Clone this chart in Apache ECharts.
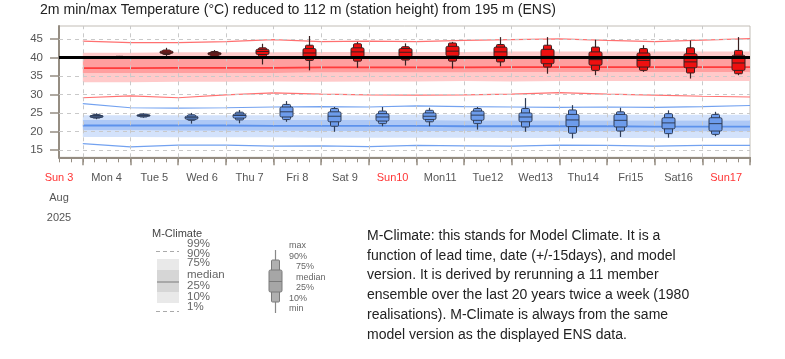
<!DOCTYPE html>
<html><head><meta charset="utf-8">
<script src="https://cdn.jsdelivr.net/npm/echarts@6/dist/echarts.min.js"></script>
<style>html,body{margin:0;padding:0;background:#fff}#c{width:785px;height:359px}</style>
</head><body><div id="c"></div>
<script>
// ---- data ----
const dayLabels = ['Sun 3','Mon 4','Tue 5','Wed 6','Thu 7','Fri 8','Sat 9','Sun10','Mon11','Tue12','Wed13','Thu14','Fri15','Sat16','Sun17'];
const monthLabel = 'Aug';
const yearLabel = '2025';
const yTicks = [15, 20, 25, 30, 35, 40, 45];
const dayBounds = [1,2,3,4,5,6,7,8,9,10,11,12,13,14,15];
const threshold = 40;

// M-Climate, at day boundaries (dayBounds)
const red99 = [44.4,44.0,44.0,44.3,44.8,44.3,44.4,44.3,44.6,44.8,45.0,44.6,44.3,44.7,45.1];
const red90 = [41.3,41.3,41.4,41.4,41.4,41.5,41.5,41.5,41.5,41.6,41.6,41.6,41.6,41.6,41.6];
const red75 = [39.8,39.8,39.9,39.9,39.9,40.0,40.0,40.0,40.0,40.1,40.1,40.1,40.1,40.1,40.1];
const red50 = [37.1,37.1,37.2,37.2,37.2,37.3,37.3,37.3,37.3,37.4,37.4,37.4,37.4,37.4,37.4];
const red25 = [35.7,35.7,35.8,35.8,35.8,35.9,35.9,35.9,35.9,36.0,36.0,36.0,36.0,36.0,36.0];
const red10 = [33.3,33.3,33.4,33.4,33.5,33.4,33.5,33.5,33.6,33.5,33.6,33.6,33.6,33.6,33.6];
const red1  = [29.1,29.6,29.1,29.9,30.4,30.1,29.9,29.8,29.9,30.1,30.5,30.1,29.8,29.5,29.3];

const blue99 = [27.5,26.4,26.3,26.4,26.6,26.7,26.6,26.9,26.7,26.6,26.5,26.6,26.5,26.7,27.0];
const blue90 = [24.4,24.4,24.4,24.4,24.4,24.4,24.4,24.5,24.5,24.5,24.5,24.5,24.5,24.5,24.5];
const blue75 = [23.2,23.2,23.2,23.2,23.1,23.1,23.1,23.1,23.0,23.0,23.0,23.0,23.0,23.0,23.0];
const blue50 = [21.6,21.6,21.6,21.6,21.5,21.5,21.5,21.5,21.4,21.4,21.4,21.4,21.3,21.3,21.3];
const blue25 = [20.3,20.3,20.2,20.2,20.2,20.1,20.1,20.1,20.1,20.1,20.0,20.0,20.0,20.0,20.0];
const blue10 = [18.5,18.5,18.4,18.4,18.4,18.3,18.3,18.3,18.3,18.2,18.2,18.2,18.2,18.2,18.2];
const blue1  = [16.7,15.8,16.3,16.3,16.0,16.1,15.9,16.2,16.1,16.0,16.3,16.2,16.0,16.2,16.2];

// ENS boxes per day (Mon 4 .. Sun17): [min, p10, p25, median, p75, p90, max]
const tmaxBoxes = [
  [39.8,39.9,40.0,40.1,40.2,40.3,40.4],
  [40.4,40.8,41.1,41.4,41.7,42.0,42.6],
  [40.0,40.4,40.7,41.0,41.3,41.6,42.0],
  [38.1,40.2,40.8,41.6,42.2,42.6,43.7],
  [36.5,39.2,40.1,41.2,42.4,43.3,45.8],
  [37.2,39.0,40.1,41.5,42.6,43.7,44.2],
  [37.8,39.3,40.2,41.4,42.4,42.9,43.8],
  [37.0,39.0,40.4,41.7,43.0,43.9,44.2],
  [37.6,38.8,40.1,41.5,42.8,43.5,45.5],
  [35.6,37.4,38.3,40.3,42.2,43.3,45.5],
  [35.2,36.5,37.9,39.4,41.5,42.8,44.8],
  [36.1,36.5,37.4,39.2,41.2,42.4,43.3],
  [34.3,35.8,37.2,38.8,41.0,42.6,44.6],
  [35.2,35.6,36.5,38.5,40.6,41.9,45.5]
];
const tminBoxes = [
  [23.3,23.6,23.8,24.1,24.3,24.6,24.9],
  [23.7,23.9,24.1,24.3,24.5,24.7,24.9],
  [22.1,23.0,23.3,23.7,24.1,24.5,25.0],
  [22.2,23.1,23.6,24.3,24.7,25.2,25.8],
  [22.6,23.2,23.9,25.3,26.6,27.3,28.2],
  [19.9,21.4,22.6,24.1,25.3,26.2,26.6],
  [21.4,22.1,22.8,23.9,24.8,25.5,26.6],
  [21.4,22.6,23.2,24.1,25.0,25.7,26.4],
  [20.5,22.1,23.0,24.4,25.5,26.2,26.6],
  [19.9,21.2,22.6,23.9,25.0,26.2,29.0],
  [18.1,19.5,21.3,23.1,24.6,25.8,27.1],
  [18.5,20.1,21.2,23.0,24.6,25.3,26.4],
  [18.3,19.4,20.7,22.3,23.7,24.8,25.7],
  [18.7,19.2,20.1,22.1,23.7,24.6,25.3]
];
const tminTime = 0.27; // fraction of day
const tmaxTime = 0.75;

// ---- build ----
const FONT = "'Liberation Sans', Arial, sans-serif";
const AX = '#958d82';

// band between two percentile arrays, drawn as one polygon through the axis scales
function bandSeries(lo, hi, color) {
  const rows = dayBounds.map((x, i) => [x, lo[i], hi[i]]);
  return {
    type:'custom', silent:true, animation:false, z:2,
    data: rows, encode:{x:0, y:[1,2]},
    renderItem: function (params, api) {
      if (params.dataIndex !== 0) return null;
      const top = rows.map(r => api.coord([r[0], r[2]]));
      const bot = rows.map(r => api.coord([r[0], r[1]])).reverse();
      return {type:'polygon', shape:{points: top.concat(bot)}, style:{fill:color}};
    }
  };
}
function lineSeries(arr, color, width) {
  return {type:'line', data: dayBounds.map((x, i) => [x, arr[i]]), symbol:'none', silent:true, animation:false, z:2,
    lineStyle:{color, width}};
}
function boxRender(fill, stroke) {
  return function (params, api) {
    const x = api.value(0);
    const p = [1,2,3,4,5,6,7].map(i => api.coord([x, api.value(i)]));
    const cx = Math.round(p[0][0]) + 0.5;
    const nw = 8, ww = 13;
    return {type:'group', children:[
      {type:'line', shape:{x1:cx, y1:p[0][1], x2:cx, y2:p[6][1]}, style:{stroke, lineWidth:1.2}},
      {type:'rect', shape:{x:cx-nw/2, y:p[5][1], width:nw, height:p[1][1]-p[5][1], r:1}, style:{fill, stroke, lineWidth:1}},
      {type:'rect', shape:{x:cx-ww/2, y:p[4][1], width:ww, height:p[2][1]-p[4][1], r:1.5}, style:{fill, stroke, lineWidth:1}},
      {type:'line', shape:{x1:cx-ww/2, y1:p[3][1], x2:cx+ww/2, y2:p[3][1]}, style:{stroke, lineWidth:1}}
    ]};
  };
}
const boxData = (boxes, off) => boxes.map((b, i) => [i + 1 + off].concat(b));

const chart = echarts.init(document.getElementById('c'), null, {renderer:'canvas'});
const gridLines = {
  silent:true, symbol:['none','none'], label:{show:false}, z:3, animation:false,
  lineStyle:{type:[4,4], color:'#c9c9c9', width:1},
  emphasis:{disabled:true},
  data: yTicks.map(v => ({yAxis:v})).concat(dayBounds.slice(0, -1).map(v => ({xAxis:v})))
};

const bands = [
  bandSeries(red10, red25, '#ffcaca'),
  bandSeries(red25, red75, '#ff9f9f'),
  bandSeries(red75, red90, '#ffcaca'),
  bandSeries(blue10, blue25, '#d3e2fb'),
  bandSeries(blue25, blue75, '#adc8f6'),
  bandSeries(blue75, blue90, '#d3e2fb')
];
bands[0].markLine = gridLines;

const option = {
  animation:false,
  textStyle:{fontFamily:FONT},
  title:{text:'2m min/max Temperature (°C) reduced to 112 m (station height) from 195 m (ENS)',
    left:40, top:3, padding:0, textStyle:{fontSize:14.1, fontWeight:'normal', color:'#222', fontFamily:FONT}},
  grid:{left:59, top:26, width:691, height:131.3, show:true, borderColor:'#c2bdb6', borderWidth:1},
  xAxis:[{
    type:'value', min:0.5, max:15, position:'bottom',
    axisLine:{show:true, lineStyle:{color:AX, width:2}},
    axisTick:{show:true, customValues: dayBounds, length:8, lineStyle:{color:AX, width:1.5}},
    axisLabel:{show:true, customValues: dayLabels.map((d, i) => i + 0.5), margin:11,
      formatter: function (v) {
        const i = Math.round(v - 0.5);
        const t = dayLabels[i];
        if (t === undefined) return '';
        let s = t.indexOf('Sun') === 0 ? '{r|' + t + '}' : '{g|' + t + '}';
        if (i === 0) s += '\n{g|' + monthLabel + '}\n{g|' + yearLabel + '}';
        return s;
      },
      rich:{r:{color:'#ff3535', fontSize:11, lineHeight:20, fontFamily:FONT},
            g:{color:'#555', fontSize:11, lineHeight:20, fontFamily:FONT}}},
    splitLine:{show:false}
  },{
    type:'value', min:0.5, max:15, interval:0.25, position:'bottom',
    axisLine:{show:false}, axisLabel:{show:false}, splitLine:{show:false},
    axisTick:{show:true, length:5, lineStyle:{color:AX, width:1}}
  }],
  yAxis:{type:'value', min:13, max:48.5,
    axisLine:{show:true, lineStyle:{color:AX, width:2}},
    axisTick:{show:true, customValues: yTicks, length:9, lineStyle:{color:AX, width:1.5}},
    axisLabel:{show:true, customValues: yTicks, margin:16, fontSize:11.5, color:'#555'},
    splitLine:{show:false}},
  series: [].concat(bands, [
    lineSeries(red50, '#ff3b3b', 1.8),
    lineSeries(red99, '#ff7070', 1.2),
    lineSeries(red1, '#ff7070', 1.2),
    lineSeries(blue50, '#5d92ec', 1.8),
    lineSeries(blue99, '#73a2f0', 1.2),
    lineSeries(blue1, '#73a2f0', 1.2),
    {type:'custom', renderItem: boxRender('#ee1010', '#3a2020'), data: boxData(tmaxBoxes, tmaxTime),
      encode:{x:0, y:[1,2,3,4,5,6,7]}, z:4, silent:true, animation:false},
    {type:'custom', renderItem: boxRender('#6d9cec', '#2f3d57'), data: boxData(tminBoxes, tminTime),
      encode:{x:0, y:[1,2,3,4,5,6,7]}, z:4, silent:true, animation:false},
    {type:'line', data:[[0.5, threshold],[15, threshold]], symbol:'none', silent:true, z:6,
      lineStyle:{color:'#000', width:3}}
  ]),
  graphic:[
    {type:'text', left:152, top:228, style:{text:'M-Climate', fontSize:11, fill:'#444', fontFamily:FONT}},
    {type:'line', shape:{x1:156, y1:251.5, x2:179, y2:251.5}, style:{stroke:'#aaa', lineWidth:1, lineDash:[4,3]}},
    {type:'rect', shape:{x:157, y:259, width:22, height:44}, style:{fill:'#e9e9e9'}},
    {type:'rect', shape:{x:157, y:270, width:22, height:22}, style:{fill:'#d6d6d6'}},
    {type:'line', shape:{x1:157, y1:282, x2:179, y2:282}, style:{stroke:'#a8a8a8', lineWidth:2}},
    {type:'line', shape:{x1:156, y1:311.5, x2:179, y2:311.5}, style:{stroke:'#aaa', lineWidth:1, lineDash:[4,3]}},
    {type:'text', x:187, y:244, style:{text:'99%', fontSize:11.5, fill:'#666', verticalAlign:'middle', fontFamily:FONT}},
    {type:'text', x:187, y:253.5, style:{text:'90%', fontSize:11.5, fill:'#666', verticalAlign:'middle', fontFamily:FONT}},
    {type:'text', x:187, y:263, style:{text:'75%', fontSize:11.5, fill:'#666', verticalAlign:'middle', fontFamily:FONT}},
    {type:'text', x:187, y:274.5, style:{text:'median', fontSize:11.5, fill:'#666', verticalAlign:'middle', fontFamily:FONT}},
    {type:'text', x:187, y:286, style:{text:'25%', fontSize:11.5, fill:'#666', verticalAlign:'middle', fontFamily:FONT}},
    {type:'text', x:187, y:296.5, style:{text:'10%', fontSize:11.5, fill:'#666', verticalAlign:'middle', fontFamily:FONT}},
    {type:'text', x:187, y:307, style:{text:'1%', fontSize:11.5, fill:'#666', verticalAlign:'middle', fontFamily:FONT}},

    {type:'line', shape:{x1:275.5, y1:250, x2:275.5, y2:313}, style:{stroke:'#888', lineWidth:1.2}},
    {type:'rect', shape:{x:271.5, y:260, width:8, height:42, r:1}, style:{fill:'#b0b0b0', stroke:'#7a7a7a', lineWidth:1}},
    {type:'rect', shape:{x:269, y:270, width:13, height:22, r:1.5}, style:{fill:'#a6a6a6', stroke:'#7a7a7a', lineWidth:1}},
    {type:'line', shape:{x1:269, y1:281.5, x2:282, y2:281.5}, style:{stroke:'#7a7a7a', lineWidth:1}},
    {type:'text', x:289, y:246, style:{text:'max', fontSize:9, fill:'#666', verticalAlign:'middle', fontFamily:FONT}},
    {type:'text', x:289, y:257, style:{text:'90%', fontSize:9, fill:'#666', verticalAlign:'middle', fontFamily:FONT}},
    {type:'text', x:296, y:267, style:{text:'75%', fontSize:9, fill:'#666', verticalAlign:'middle', fontFamily:FONT}},
    {type:'text', x:296, y:277.5, style:{text:'median', fontSize:9, fill:'#666', verticalAlign:'middle', fontFamily:FONT}},
    {type:'text', x:296, y:288, style:{text:'25%', fontSize:9, fill:'#666', verticalAlign:'middle', fontFamily:FONT}},
    {type:'text', x:289, y:299, style:{text:'10%', fontSize:9, fill:'#666', verticalAlign:'middle', fontFamily:FONT}},
    {type:'text', x:289, y:309, style:{text:'min', fontSize:9, fill:'#666', verticalAlign:'middle', fontFamily:FONT}},

    {type:'text', x:367, y:226, style:{
      text:'M-Climate: this stands for Model Climate. It is a\nfunction of lead time, date (+/-15days), and model\nversion. It is derived by rerunning a 11 member\nensemble over the last 20 years twice a week (1980\nrealisations). M-Climate is always from the same\nmodel version as the displayed ENS data.',
      fontSize:14, lineHeight:19.8, fill:'#222', fontFamily:FONT}}
  ]
};
chart.setOption(option);
</script>
</body></html>
